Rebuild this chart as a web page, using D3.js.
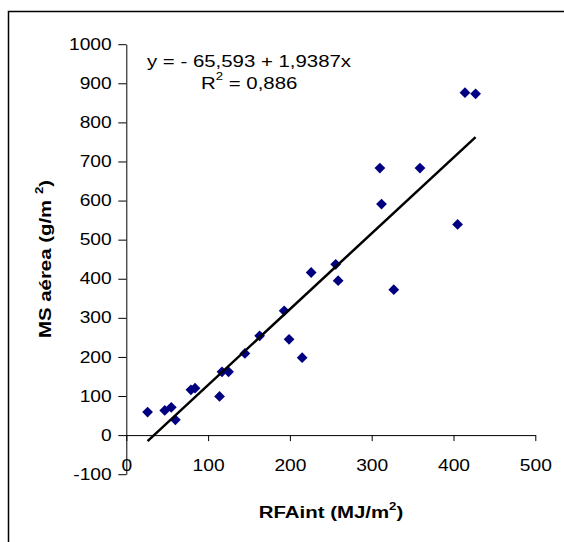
<!DOCTYPE html>
<html>
<head>
<meta charset="utf-8">
<script src="https://cdn.jsdelivr.net/npm/d3@7"></script>
<style>
  body { margin: 0; background: #fff; }
</style>
</head>
<body>
<div id="chart"></div>
<script>
// data
var rfaInt  = [26, 47, 55, 60, 79, 84, 114, 117, 125, 145, 163, 193, 199, 215, 226, 256, 259, 310, 312, 327, 359, 405, 414, 427];
var msAerea = [59, 63, 71, 39, 116, 120, 99, 162, 162, 209, 254, 318, 245, 198, 416, 437, 395, 683, 591, 372, 683, 539, 876, 873];

var xTicks = [0, 100, 200, 300, 400, 500];
var yTicks = [-100, 0, 100, 200, 300, 400, 500, 600, 700, 800, 900, 1000];

// fitted line as printed on the chart
var intercept = -65.593, slope = 1.9387;
var eqText = "y = - 65,593 + 1,9387x";
var r2Text = " = 0,886";

var width = 564, height = 542;
var font = "'Liberation Sans', Arial, sans-serif";
var stretch = 1.2;   // text in the original is a bit wide

var svg = d3.select("#chart")
  .append("svg")
    .attr("width", width)
    .attr("height", height);

// outer frame (only left and top edges are inside the picture)
svg.append("rect")
  .attr("x", 8.5).attr("y", 11.5)
  .attr("width", 600).attr("height", 600)
  .attr("fill", "none")
  .attr("stroke", "#000")
  .attr("stroke-width", 1.5);

var x = d3.scaleLinear().domain([0, 500]).range([126.3, 535.3]);
var y = d3.scaleLinear().domain([-100, 1000]).range([474.2, 44.2]);

// plain labels: no thousands comma, ascii minus
var fmt = function(d) { return String(d); };

// Y axis
var gy = svg.append("g")
  .attr("transform", "translate(" + x(0) + ",0)")
  .call(d3.axisLeft(y).tickValues(yTicks).tickFormat(fmt).tickSize(8).tickSizeOuter(0).tickPadding(6));
gy.selectAll("text")
  .attr("x", -14.6 / stretch)
  .attr("transform", "scale(" + stretch + ",1)");

// X axis at y = 0
var gx = svg.append("g")
  .attr("transform", "translate(0," + y(0) + ")")
  .call(d3.axisBottom(x).tickValues(xTicks).tickFormat(fmt).tickSize(6).tickSizeOuter(0).tickPadding(19));
gx.selectAll("text")
  .attr("transform", "scale(" + stretch + ",1)");

[gx, gy].forEach(function(g) {
  g.attr("font-family", font).attr("font-size", 16);
  g.selectAll("path, line").attr("stroke", "#000").attr("stroke-width", 1);
  g.selectAll("text").attr("fill", "#000");
});

// points
svg.append("g")
  .selectAll("path")
  .data(rfaInt.map(function(d, i) { return {x: d, y: msAerea[i]}; }))
  .enter()
  .append("path")
    .attr("d", d3.symbol().type(d3.symbolSquare).size(58))
    .attr("transform", function(d) { return "translate(" + x(d.x) + "," + y(d.y) + ") rotate(45)"; })
    .attr("fill", "#000080");

// regression line over the data range
var x0 = d3.min(rfaInt), x1 = d3.max(rfaInt);
svg.append("line")
  .attr("x1", x(x0)).attr("y1", y(intercept + slope * x0))
  .attr("x2", x(x1)).attr("y2", y(intercept + slope * x1))
  .attr("stroke", "#000")
  .attr("stroke-width", 2.5);

// equation
svg.append("text")
  .attr("transform", "translate(147,67.3) scale(" + stretch + ",1)")
  .attr("font-family", font).attr("font-size", 17)
  .text(eqText);

var r2 = svg.append("text")
  .attr("transform", "translate(201,89) scale(" + stretch + ",1)")
  .attr("font-family", font).attr("font-size", 17);
r2.append("tspan").text("R");
r2.append("tspan").attr("dy", -9).attr("font-size", 11).text("2");
r2.append("tspan").attr("dy", 9).text(r2Text);

// axis titles
var xt = svg.append("text")
  .attr("transform", "translate(331,518) scale(" + stretch + ",1)")
  .attr("text-anchor", "middle")
  .attr("font-family", font).attr("font-size", 17).attr("font-weight", "bold");
xt.append("tspan").text("RFAint (MJ/m");
xt.append("tspan").attr("dy", -8).attr("font-size", 11).text("2");
xt.append("tspan").attr("dy", 8).text(")");

var yt = svg.append("text")
  .attr("transform", "translate(51,259) rotate(-90) scale(" + stretch + ",1)")
  .attr("text-anchor", "middle")
  .attr("font-family", font).attr("font-size", 17).attr("font-weight", "bold");
yt.append("tspan").text("MS aérea (g/m ");
yt.append("tspan").attr("dy", -8).attr("font-size", 11).text("2");
yt.append("tspan").attr("dy", 8).text(")");
</script>
</body>
</html>
